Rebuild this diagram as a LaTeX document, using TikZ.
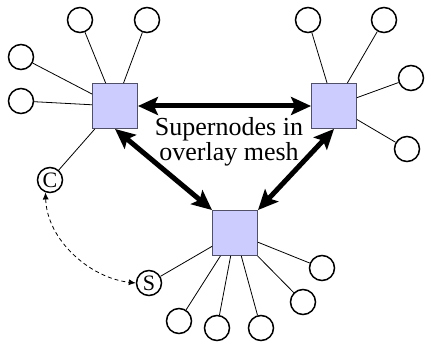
\documentclass[tikz,border=0pt]{standalone}
\usepackage{fontspec}
\setmainfont{Liberation Serif}
\usetikzlibrary{arrows.meta}
\definecolor{sqfill}{HTML}{CCCCFF}
\definecolor{sqdraw}{HTML}{505068}
\begin{document}
\begin{tikzpicture}[x=1pt,y=-1pt,
  peer/.style={circle,draw=black,line width=1.5pt,fill=white,minimum size=25pt,inner sep=0pt},
  super/.style={rectangle,draw=sqdraw,line width=0.9pt,fill=sqfill,minimum size=45pt,inner sep=0pt},
  link/.style={line width=0.8pt,black},
  mesh/.style={line width=5pt,{Stealth[length=20pt,width=18pt,inset=4pt]}-{Stealth[length=20pt,width=18pt,inset=4pt]}},
  dashlink/.style={line width=0.8pt,dash pattern=on 4pt off 3pt,{Latex[length=7pt,width=6pt]}-{Latex[length=7pt,width=6pt]}},
  lbl/.style={font=\fontsize{22}{22}\selectfont}]
\useasboundingbox (0,0) rectangle (425,342);
% supernodes
\node[super] (TL) at (115,106) {};
\node[super] (TR) at (334,106) {};
\node[super] (B) at (235,233) {};
% peers of TL
\node[peer] (a1) at (80,20) {};
\node[peer] (a2) at (147,20) {};
\node[peer] (a3) at (21,57) {};
\node[peer] (a4) at (21,101) {};
\node[peer,lbl] (C) at (50,180) {C};
% peers of TR
\node[peer] (b1) at (308,20) {};
\node[peer] (b2) at (384,20) {};
\node[peer] (b3) at (411,78) {};
\node[peer] (b4) at (407,149) {};
% peers of B
\node[peer,lbl] (S) at (149,283) {S};
\node[peer] (c1) at (179,321) {};
\node[peer] (c2) at (217,328) {};
\node[peer] (c3) at (261,328) {};
\node[peer] (c4) at (303,302) {};
\node[peer] (c5) at (322,268) {};
% links
\foreach \p in {a1,a2,a3,a4,C} \draw[link] (\p) -- (TL);
\foreach \p in {b1,b2,b3,b4} \draw[link] (\p) -- (TR);
\foreach \p in {S,c1,c2,c3,c4,c5} \draw[link] (\p) -- (B);
% overlay mesh
\draw[mesh] (TL.east) -- (TR.west);
\draw[mesh] (TL.south) -- (B.north west);
\draw[mesh] (TR.south) -- (B.north east);
% label
\node[align=center,font=\fontsize{26}{22}\selectfont,inner sep=0pt] (txt) at (229,142) {Supernodes in\\overlay mesh};
% dashed C-S
\draw[dashlink] (C.250) .. controls (47,240) and (90,278) .. (S.west);
\end{tikzpicture}
\end{document}
